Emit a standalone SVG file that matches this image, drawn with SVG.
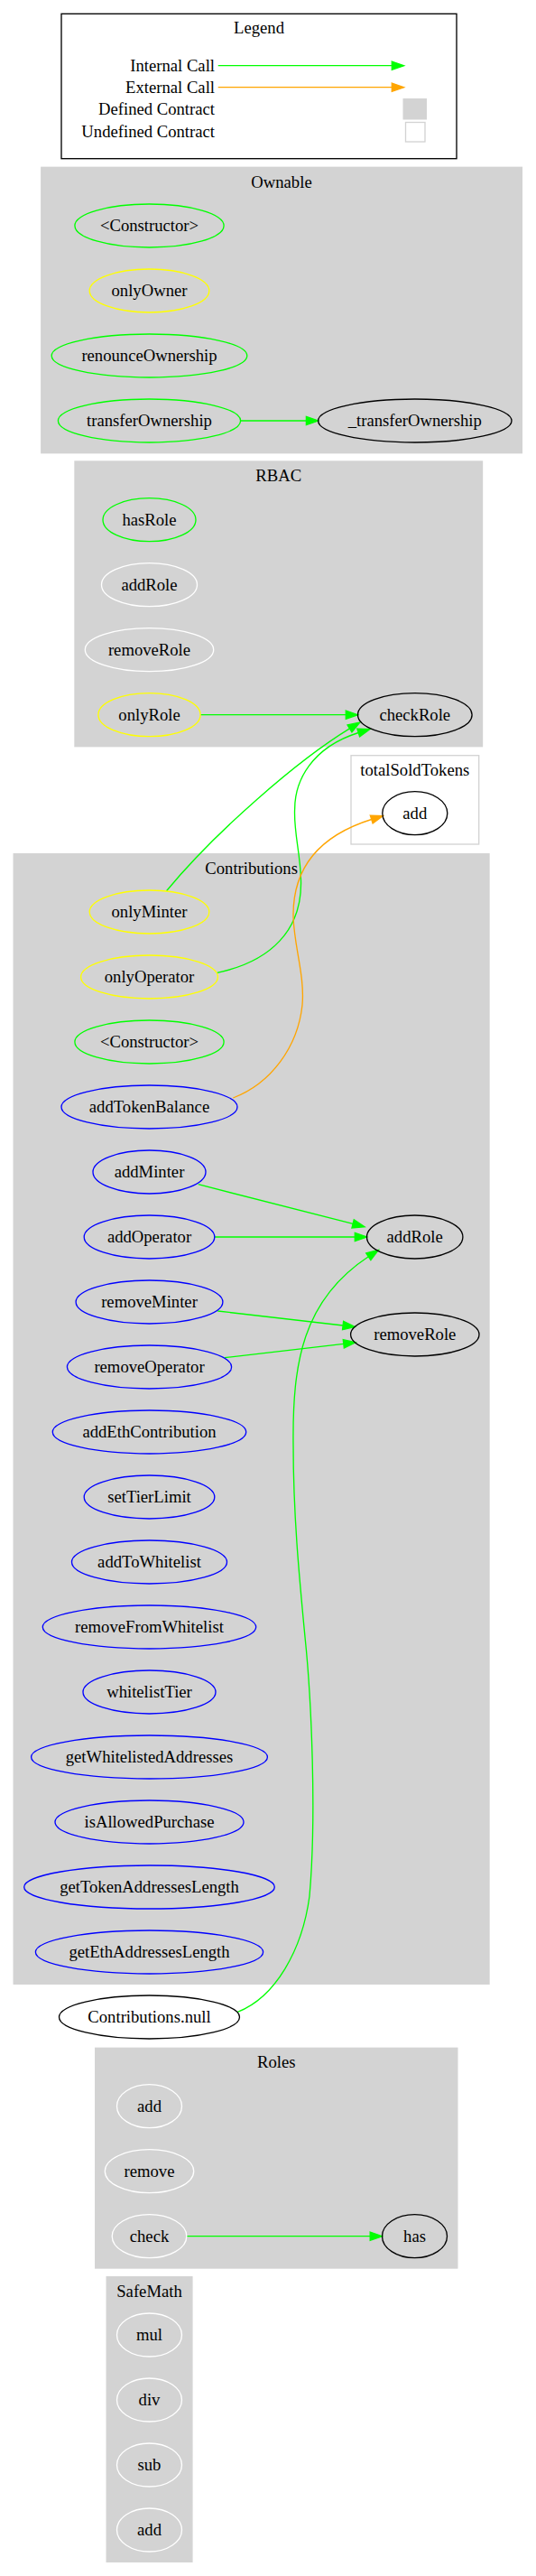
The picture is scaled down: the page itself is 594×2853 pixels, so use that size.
<svg xmlns="http://www.w3.org/2000/svg" width="594" height="2853" viewBox="0 0 594 2853">
<style>
text{font-family:"Liberation Serif","Times New Roman",serif;font-size:18.67px;fill:#000}
.c{text-anchor:middle}
.r{text-anchor:end}
.cl{fill:#d3d3d3;stroke:#d3d3d3;stroke-width:1.33}
.ucl{fill:#fff;stroke:#d3d3d3;stroke-width:1.33}
.leg{fill:#fff;stroke:#000;stroke-width:1.33}
ellipse{fill:none;stroke-width:1.33}
.g{stroke:#00ff00}.y{stroke:#ffff00}.b{stroke:#0000ff}.w{stroke:#ffffff}.k{stroke:#000000}
.e{fill:none;stroke-width:1.33}
.eg{stroke:#00ff00;marker-end:url(#ag)}
.eo{stroke:#ffa500;marker-end:url(#ao)}
</style>
<defs>
<marker id="ag" markerUnits="userSpaceOnUse" viewBox="0 -6 15 12" refX="0" refY="0" markerWidth="15" markerHeight="12" orient="auto" overflow="visible"><path d="M0,-4.67 L13.33,0 L0,4.67 z" fill="#00ff00" stroke="#00ff00" stroke-width="1.33"/></marker>
<marker id="ao" markerUnits="userSpaceOnUse" viewBox="0 -6 15 12" refX="0" refY="0" markerWidth="15" markerHeight="12" orient="auto" overflow="visible"><path d="M0,-4.67 L13.33,0 L0,4.67 z" fill="#ffa500" stroke="#ffa500" stroke-width="1.33"/></marker>
</defs>
<rect width="594" height="2853" fill="#fff"/>

<g id="legend">
<rect class="leg" x="68" y="15.3" width="438" height="160.4"/>
<text class="c" x="287" y="36.5">Legend</text>
<text class="r" x="238" y="79">Internal Call</text>
<text class="r" x="238" y="103">External Call</text>
<text class="r" x="238" y="127">Defined Contract</text>
<text class="r" x="238" y="151.5">Undefined Contract</text>
<rect x="446.5" y="109" width="26.5" height="23.5" fill="#d3d3d3"/>
<rect x="449.5" y="135.5" width="21.5" height="21.5" fill="#fff" stroke="#d3d3d3" stroke-width="1.33"/>
</g>

<g id="cluster_Ownable">
<rect class="cl" x="45.8" y="185.3" width="532.6" height="316.4"/>
<text class="c" x="312" y="207.5">Ownable</text>
</g>
<g id="cluster_RBAC">
<rect class="cl" x="83" y="511" width="451.5" height="315.7"/>
<text class="c" x="308.7" y="532.5">RBAC</text>
</g>
<g id="cluster_totalSoldTokens">
<rect class="ucl" x="389" y="836.7" width="141.7" height="98.3"/>
<text class="c" x="459.8" y="858.5">totalSoldTokens</text>
</g>
<g id="cluster_Contributions">
<rect class="cl" x="15.2" y="945.7" width="526.8" height="1251.6"/>
<text class="c" x="278.6" y="967.5">Contributions</text>
</g>
<g id="cluster_Roles">
<rect class="cl" x="105.7" y="2268.3" width="401.1" height="243.7"/>
<text class="c" x="306.2" y="2290">Roles</text>
</g>
<g id="cluster_SafeMath">
<rect class="cl" x="118.2" y="2521.7" width="94.7" height="315.6"/>
<text class="c" x="165.5" y="2543.5">SafeMath</text>
</g>

<g id="connectors">
<path class="e" d="M241.7,72.7 L434.3,72.7" stroke="#00ff00" marker-end="url(#ag)"/>
<path class="e" d="M241.7,96.7 L434.3,96.7" stroke="#ffa500" marker-end="url(#ao)"/>
<path class="e eg" d="M266.6,466 L339.4,466"/>
<path class="e eg" d="M222.1,791.7 L383.3,791.7"/>
<path class="e eg" d="M184.5,986.7 C240,920 330,842 387.5,806.9"/>
<path class="e eg" d="M240.7,1077.3 C300,1065 335,1030 333.5,975 C333,945 325,920 326.7,895 C327,865 345,828 397.2,811.5"/>
<path class="e eo" d="M258.3,1216 C300,1200 330,1160 335,1113 C338,1080 325,1045 325,1013 C325,975 340,930 411.7,907.5"/>
<path class="e eg" d="M219.7,1311.7 L391.1,1355.4"/>
<path class="e eg" d="M238,1370 L393.3,1370"/>
<path class="e eg" d="M241.3,1452 L380.1,1468"/>
<path class="e eg" d="M248.9,1503.7 L380.8,1488.3"/>
<path class="e eg" d="M263.3,2228.3 C305,2212 335,2160 343,2100 C351,2010 345,1880 338,1813 C332,1750 325,1680 325,1600 C324,1510 335,1440 408.3,1391.7"/>
<path class="e eg" d="M206.8,2476.7 L410.2,2476.7"/>
</g>

<g id="Ownable_Constructor"><ellipse class="g" cx="165.5" cy="250" rx="82.6" ry="24"/><text class="c" x="165.5" y="255.8">&lt;Constructor&gt;</text></g>
<g id="Ownable_onlyOwner"><ellipse class="y" cx="165.5" cy="322" rx="66.3" ry="24"/><text class="c" x="165.5" y="327.8">onlyOwner</text></g>
<g id="Ownable_renounceOwnership"><ellipse class="g" cx="165.5" cy="394" rx="108.3" ry="24"/><text class="c" x="165.5" y="399.8">renounceOwnership</text></g>
<g id="Ownable_transferOwnership"><ellipse class="g" cx="165.5" cy="466" rx="101.1" ry="24"/><text class="c" x="165.5" y="471.8">transferOwnership</text></g>
<g id="Ownable__transferOwnership"><ellipse class="k" cx="459.8" cy="466" rx="107.2" ry="24"/><text class="c" x="459.8" y="471.8">_transferOwnership</text></g>

<g id="RBAC_hasRole"><ellipse class="g" cx="165.5" cy="575.7" rx="51.5" ry="24"/><text class="c" x="165.5" y="581.5">hasRole</text></g>
<g id="RBAC_addRole"><ellipse class="w" cx="165.5" cy="647.7" rx="53" ry="24"/><text class="c" x="165.5" y="653.5">addRole</text></g>
<g id="RBAC_removeRole"><ellipse class="w" cx="165.5" cy="719.7" rx="71.2" ry="24"/><text class="c" x="165.5" y="725.5">removeRole</text></g>
<g id="RBAC_onlyRole"><ellipse class="y" cx="165.5" cy="791.7" rx="56.6" ry="24"/><text class="c" x="165.5" y="797.5">onlyRole</text></g>
<g id="RBAC_checkRole"><ellipse class="k" cx="459.8" cy="791.7" rx="63.3" ry="24"/><text class="c" x="459.8" y="797.5">checkRole</text></g>

<g id="totalSoldTokens_add"><ellipse class="k" cx="459.8" cy="900.7" rx="36" ry="24"/><text class="c" x="459.8" y="906.5">add</text></g>

<g id="Contributions_onlyMinter"><ellipse class="y" cx="165.5" cy="1010" rx="66.3" ry="24"/><text class="c" x="165.5" y="1015.8">onlyMinter</text></g>
<g id="Contributions_onlyOperator"><ellipse class="y" cx="165.5" cy="1082" rx="75.9" ry="24"/><text class="c" x="165.5" y="1087.8">onlyOperator</text></g>
<g id="Contributions_Constructor"><ellipse class="g" cx="165.5" cy="1154" rx="82.6" ry="24"/><text class="c" x="165.5" y="1159.8">&lt;Constructor&gt;</text></g>
<g id="Contributions_addTokenBalance"><ellipse class="b" cx="165.5" cy="1226" rx="97.5" ry="24"/><text class="c" x="165.5" y="1231.8">addTokenBalance</text></g>
<g id="Contributions_addMinter"><ellipse class="b" cx="165.5" cy="1298" rx="62.5" ry="24"/><text class="c" x="165.5" y="1303.8">addMinter</text></g>
<g id="Contributions_addOperator"><ellipse class="b" cx="165.5" cy="1370" rx="72.3" ry="24"/><text class="c" x="165.5" y="1375.8">addOperator</text></g>
<g id="Contributions_removeMinter"><ellipse class="b" cx="165.5" cy="1442" rx="81.4" ry="24"/><text class="c" x="165.5" y="1447.8">removeMinter</text></g>
<g id="Contributions_removeOperator"><ellipse class="b" cx="165.5" cy="1514" rx="91.1" ry="24"/><text class="c" x="165.5" y="1519.8">removeOperator</text></g>
<g id="Contributions_addEthContribution"><ellipse class="b" cx="165.5" cy="1586" rx="107.2" ry="24"/><text class="c" x="165.5" y="1591.8">addEthContribution</text></g>
<g id="Contributions_setTierLimit"><ellipse class="b" cx="165.5" cy="1658" rx="72.3" ry="24"/><text class="c" x="165.5" y="1663.8">setTierLimit</text></g>
<g id="Contributions_addToWhitelist"><ellipse class="b" cx="165.5" cy="1730" rx="86" ry="24"/><text class="c" x="165.5" y="1735.8">addToWhitelist</text></g>
<g id="Contributions_removeFromWhitelist"><ellipse class="b" cx="165.5" cy="1802" rx="118.2" ry="24"/><text class="c" x="165.5" y="1807.8">removeFromWhitelist</text></g>
<g id="Contributions_whitelistTier"><ellipse class="b" cx="165.5" cy="1874" rx="73.5" ry="24"/><text class="c" x="165.5" y="1879.8">whitelistTier</text></g>
<g id="Contributions_getWhitelistedAddresses"><ellipse class="b" cx="165.5" cy="1946" rx="130.9" ry="24"/><text class="c" x="165.5" y="1951.8">getWhitelistedAddresses</text></g>
<g id="Contributions_isAllowedPurchase"><ellipse class="b" cx="165.5" cy="2018" rx="104.5" ry="24"/><text class="c" x="165.5" y="2023.8">isAllowedPurchase</text></g>
<g id="Contributions_getTokenAddressesLength"><ellipse class="b" cx="165.5" cy="2090" rx="138.8" ry="24"/><text class="c" x="165.5" y="2095.8">getTokenAddressesLength</text></g>
<g id="Contributions_getEthAddressesLength"><ellipse class="b" cx="165.5" cy="2162" rx="126.1" ry="24"/><text class="c" x="165.5" y="2167.8">getEthAddressesLength</text></g>
<g id="Contributions_addRole"><ellipse class="k" cx="459.7" cy="1370" rx="53.2" ry="24"/><text class="c" x="459.7" y="1375.8">addRole</text></g>
<g id="Contributions_removeRole"><ellipse class="k" cx="459.8" cy="1478" rx="71.2" ry="24"/><text class="c" x="459.8" y="1483.8">removeRole</text></g>

<g id="Contributions_null"><ellipse class="k" cx="165.5" cy="2234" rx="100" ry="24"/><text class="c" x="165.5" y="2239.8">Contributions.null</text></g>

<g id="Roles_add"><ellipse class="w" cx="165.5" cy="2332.7" rx="36" ry="24"/><text class="c" x="165.5" y="2338.5">add</text></g>
<g id="Roles_remove"><ellipse class="w" cx="165.5" cy="2404.7" rx="49.2" ry="24"/><text class="c" x="165.5" y="2410.5">remove</text></g>
<g id="Roles_check"><ellipse class="w" cx="165.5" cy="2476.7" rx="41.3" ry="24"/><text class="c" x="165.5" y="2482.5">check</text></g>
<g id="Roles_has"><ellipse class="k" cx="459.5" cy="2476.7" rx="36" ry="24"/><text class="c" x="459.5" y="2482.5">has</text></g>

<g id="SafeMath_mul"><ellipse class="w" cx="165.5" cy="2586" rx="36" ry="24"/><text class="c" x="165.5" y="2591.8">mul</text></g>
<g id="SafeMath_div"><ellipse class="w" cx="165.5" cy="2658" rx="36" ry="24"/><text class="c" x="165.5" y="2663.8">div</text></g>
<g id="SafeMath_sub"><ellipse class="w" cx="165.5" cy="2730" rx="36" ry="24"/><text class="c" x="165.5" y="2735.8">sub</text></g>
<g id="SafeMath_add"><ellipse class="w" cx="165.5" cy="2802" rx="36" ry="24"/><text class="c" x="165.5" y="2807.8">add</text></g>
</svg>
